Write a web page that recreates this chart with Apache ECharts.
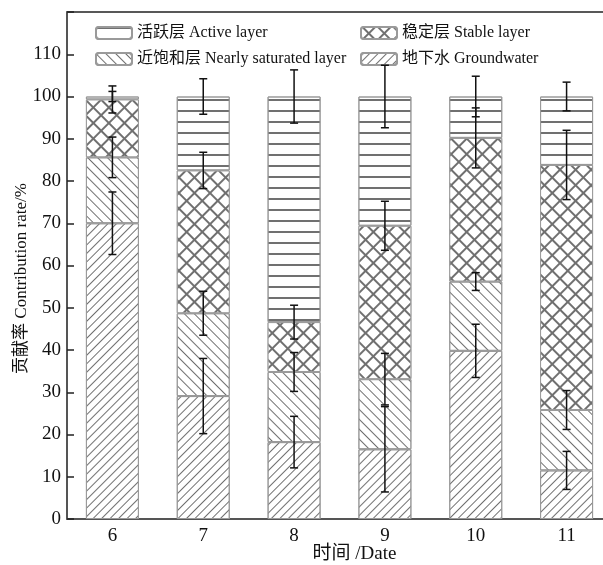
<!DOCTYPE html>
<html>
<head>
<meta charset="utf-8">
<script src="https://cdn.jsdelivr.net/npm/echarts@6/dist/echarts.min.js"></script>
<style>
html,body{margin:0;padding:0;background:#fff;}
#main{width:603px;height:565px;}
</style>
</head>
<body>
<div id="main"></div>
<script>
// 月份
const months = ['6', '7', '8', '9', '10', '11'];
// 各层贡献率 (%)
const groundwater = [70.0, 29.1, 18.2, 16.5, 39.8, 11.5];
const nearlySat = [15.6, 19.6, 16.6, 16.6, 16.4, 14.3];
const stable = [13.7, 33.8, 11.8, 36.3, 34.0, 58.0];
const active = [0.7, 17.5, 53.4, 30.6, 9.8, 16.2];
// 误差
const errGroundwater = [7.4, 8.9, 6.1, 10.1, 6.3, 4.5];
const errNearlySat = [4.8, 5.2, 4.6, 6.1, 2.1, 4.6];
const errStable = [3.2, 4.3, 4.0, 5.8, 7.1, 8.2];
const errActive = [1.2, 4.2, 6.3, 7.4, 4.8, 3.4];
const yTicks = [0, 10, 20, 30, 40, 50, 60, 70, 80, 90, 100, 110];

const names = ['活跃层 Active layer', '稳定层 Stable layer', '近饱和层 Nearly saturated layer', '地下水 Groundwater'];
const FONT = '"Liberation Serif", "Noto Sans CJK SC", serif';
const LINE = '#707070';

// 误差棒数据: 累计顶端 ± 误差
function errData(layers, errs) {
    let out = [];
    for (let i = 0; i < months.length; i++) {
        let top = 0;
        for (let k = 0; k < layers.length; k++) top += layers[k][i];
        out.push([i, top - errs[i], top + errs[i]]);
    }
    return out;
}
let errAll = []
    .concat(errData([groundwater], errGroundwater))
    .concat(errData([groundwater, nearlySat], errNearlySat))
    .concat(errData([groundwater, nearlySat, stable], errStable))
    .concat(errData([groundwater, nearlySat, stable, active], errActive));

function barSeries(name, data, fill, decal) {
    return {
        name: name,
        type: 'bar',
        stack: 'total',
        barWidth: 53,
        data: data,
        itemStyle: { color: fill, borderColor: '#9a9a9a', borderWidth: 1, decal: decal },
        emphasis: { disabled: true }
    };
}

let myChart = echarts.init(document.getElementById('main'), null, { renderer: 'canvas' });
let option = {
    animation: false,
    textStyle: { fontFamily: FONT },
    grid: {
        left: 67, top: 12, width: 545, height: 507,
        outerBoundsMode: 'none', containLabel: false,
        show: true, borderColor: '#222', borderWidth: 1.5
    },
    legend: [
        {
            orient: 'vertical', left: 95, top: 25, padding: 0, itemWidth: 36, itemHeight: 12, itemGap: 10,
            data: [names[0], names[2]], selectedMode: false,
            textStyle: { fontFamily: FONT, fontSize: 16, color: '#111' }
        },
        {
            orient: 'vertical', left: 360, top: 25, padding: 0, itemWidth: 36, itemHeight: 12, itemGap: 10,
            data: [names[1], names[3]], selectedMode: false,
            textStyle: { fontFamily: FONT, fontSize: 16, color: '#111' }
        }
    ],
    xAxis: {
        type: 'category',
        data: months,
        name: '时间 /Date',
        nameLocation: 'middle',
        nameMoveOverlap: false,
        nameGap: 26,
        nameTextStyle: { fontFamily: FONT, fontSize: 19, color: '#111', padding: [0, 0, 0, 30] },
        axisLine: { lineStyle: { color: '#555', width: 1.5 } },
        axisTick: { inside: true, length: 7, alignWithLabel: true, lineStyle: { color: '#222', width: 1.5 } },
        axisLabel: { fontFamily: FONT, fontSize: 19, color: '#111', margin: 8 }
    },
    yAxis: {
        type: 'value',
        min: 0,
        max: 120,
        interval: 10,
        name: '贡献率 Contribution rate/%',
        nameLocation: 'middle',
        nameMoveOverlap: false,
        nameGap: 37,
        nameTextStyle: { fontFamily: FONT, fontSize: 17, color: '#111', padding: [0, 26, 0, 0] },
        axisLine: { show: true, lineStyle: { color: '#555', width: 1.5 } },
        axisTick: { show: true, inside: true, length: 7, lineStyle: { color: '#222', width: 1.5 } },
        splitLine: { show: false },
        axisLabel: {
            fontFamily: FONT, fontSize: 19, color: '#111', margin: 6,
            formatter: function (v) { return yTicks.indexOf(v) >= 0 ? String(v) : ''; }
        }
    },
    series: [
        barSeries(names[3], groundwater, '#fff',
            { symbol: 'rect', color: LINE, dashArrayX: [1, 0], dashArrayY: [1, 5], symbolSize: 1, rotation: -Math.PI / 4 }),
        barSeries(names[2], nearlySat, '#fff',
            { symbol: 'rect', color: LINE, dashArrayX: [1, 0], dashArrayY: [1, 6], symbolSize: 1, rotation: Math.PI / 4 }),
        barSeries(names[1], stable, LINE,
            { symbol: 'rect', color: '#fff', dashArrayX: [9, 2], dashArrayY: [9, 2], symbolSize: 1, rotation: Math.PI / 4 }),
        barSeries(names[0], active, '#fff',
            { symbol: 'rect', color: LINE, dashArrayX: [1, 0], dashArrayY: [2, 9], symbolSize: 1, rotation: 0 }),
        {
            type: 'custom',
            z: 10,
            silent: true,
            data: errAll,
            renderItem: function (params, api) {
                let x = api.value(0);
                let lo = api.coord([x, api.value(1)]);
                let hi = api.coord([x, api.value(2)]);
                let w = 4;
                let st = { stroke: '#111', lineWidth: 1.5 };
                return {
                    type: 'group',
                    children: [
                        { type: 'line', shape: { x1: hi[0], y1: hi[1], x2: lo[0], y2: lo[1] }, style: st },
                        { type: 'line', shape: { x1: hi[0] - w, y1: hi[1], x2: hi[0] + w, y2: hi[1] }, style: st },
                        { type: 'line', shape: { x1: lo[0] - w, y1: lo[1], x2: lo[0] + w, y2: lo[1] }, style: st }
                    ]
                };
            }
        }
    ]
};
myChart.setOption(option);
</script>
</body>
</html>
